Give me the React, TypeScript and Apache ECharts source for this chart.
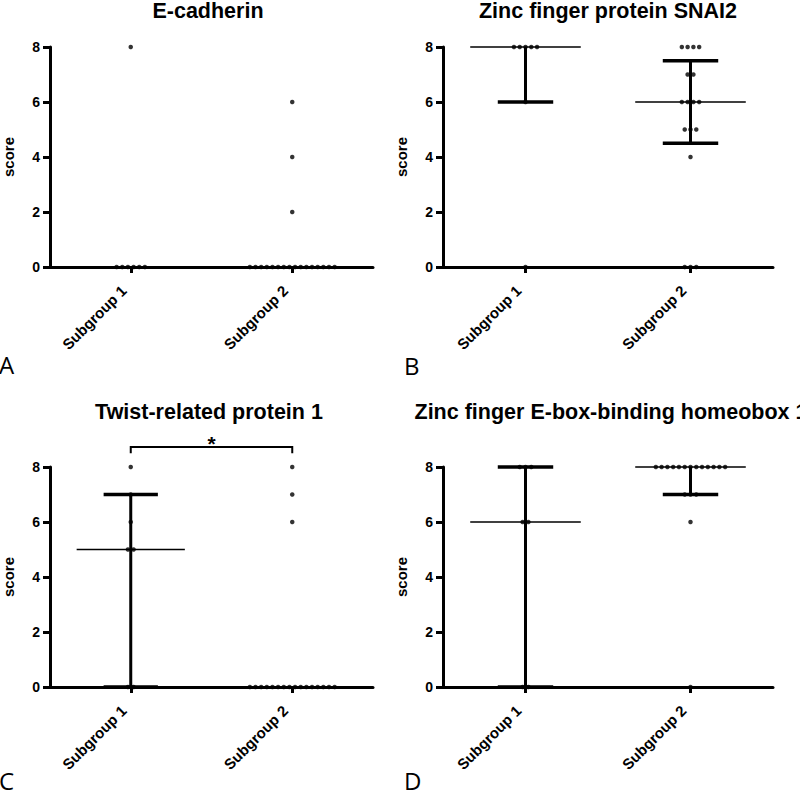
import React, { useEffect, useRef } from "react";
import * as echarts from "echarts";

// ---------- data ----------
const categories = ["Subgroup 1", "Subgroup 2"];
const panelTitles = [
  "E-cadherin",
  "Zinc finger protein SNAI2",
  "Twist-related protein 1",
  "Zinc finger E-box-binding homeobox 1",
];
const panelLetters = ["A", "B", "C", "D"];
const yAxisName = "score";

// individual scores (one value per patient)
const eCadherinSub1 = [8, 0, 0, 0, 0, 0, 0];
const eCadherinSub2 = [6, 4, 2, 0, 0, 0, 0, 0, 0, 0, 0, 0, 0, 0, 0, 0, 0, 0, 0];
const snai2Sub1 = [8, 8, 8, 8, 8, 6, 0];
const snai2Sub2 = [8, 8, 8, 8, 7, 7, 6, 6, 6, 6, 5, 5, 5, 4, 0, 0, 0];
const twistSub1 = [8, 7, 6, 5, 5, 0, 0];
const twistSub2 = [8, 7, 6, 0, 0, 0, 0, 0, 0, 0, 0, 0, 0, 0, 0, 0, 0, 0, 0];
const zebSub1 = [8, 8, 8, 6, 6, 0, 0];
const zebSub2 = [8, 8, 8, 8, 8, 8, 8, 8, 8, 8, 8, 8, 8, 7, 7, 7, 6, 0];

// [median, Q1, Q3] per subgroup
const eCadherinStats = [[0, 0, 0], [0, 0, 0]];
const snai2Stats = [[8, 6, 8], [6, 4.5, 7.5]];
const twistStats = [[5, 0, 7], [0, 0, 0]];
const zebStats = [[6, 0, 8], [8, 7, 8]];

// significance brackets: [panel, fromGroup, toGroup, label]
const significance: [number, number, number, string][] = [[2, 0, 1, "*"]];

const panelScores = [
  [eCadherinSub1, eCadherinSub2],
  [snai2Sub1, snai2Sub2],
  [twistSub1, twistSub2],
  [zebSub1, zebSub2],
];
const panelStats = [eCadherinStats, snai2Stats, twistStats, zebStats];

// ---------- layout ----------
const FONT = "'Liberation Sans', Arial, Helvetica, sans-serif";
const GRID_W = 330;
const GRID_H = 220;
const gridOrigins = [
  [43, 47],
  [443, 47],
  [43, 467],
  [443, 467],
];
const titlePos = [
  [208, 0],
  [608, 0],
  [209, 401],
  [611, 401],
];
const letterPos = [
  [-1, 364],
  [404, 365],
  [-1, 780],
  [404, 780],
];
const DOT_STEP = 0.035;
const groupX = (g: number) => g + 0.5;
const Y_MIN = 0;
const Y_MAX = 8;
const AXIS_W = 3;

function swarm(values: number[], group: number) {
  const counts: Record<string, number> = {};
  values.forEach((v) => (counts[v] = (counts[v] || 0) + 1));
  const out: number[][] = [];
  Object.keys(counts).forEach((k) => {
    const n = counts[k];
    for (let i = 0; i < n; i++) {
      out.push([groupX(group) + (i - (n - 1) / 2) * DOT_STEP, Number(k)]);
    }
  });
  return out;
}

function errorBarRender(params: any, api: any) {
  const x = api.value(0);
  const med = api.value(1);
  const q1 = api.value(2);
  const q3 = api.value(3);
  const unit = api.size([1, 0])[0];
  const medHalf = unit * 0.335;
  const capHalf = unit * 0.168;
  const pMed = api.coord([x, med]);
  const pQ1 = api.coord([x, q1]);
  const pQ3 = api.coord([x, q3]);
  const children: any[] = [];
  if (q1 !== q3) {
    children.push({
      type: "line",
      shape: { x1: pQ1[0], y1: pQ1[1], x2: pQ3[0], y2: pQ3[1] },
      style: { stroke: "#000", lineWidth: 3 },
    });
  }
  if (q1 !== med) {
    children.push({
      type: "line",
      shape: { x1: pQ1[0] - capHalf, y1: pQ1[1], x2: pQ1[0] + capHalf, y2: pQ1[1] },
      style: { stroke: "#000", lineWidth: 3.5 },
    });
  }
  if (q3 !== med) {
    children.push({
      type: "line",
      shape: { x1: pQ3[0] - capHalf, y1: pQ3[1], x2: pQ3[0] + capHalf, y2: pQ3[1] },
      style: { stroke: "#000", lineWidth: 3.5 },
    });
  }
  children.push({
    type: "line",
    shape: { x1: pMed[0] - medHalf, y1: pMed[1], x2: pMed[0] + medHalf, y2: pMed[1] },
    style: { stroke: "#000", lineWidth: 1.5 },
  });
  return { type: "group", children };
}

function sigRender(params: any, api: any) {
  const a = api.value(0);
  const b = api.value(1);
  const label = significance[params.dataIndex][3];
  const pA0 = api.coord([a, 8.5]);
  const pA1 = api.coord([a, 8.73]);
  const pB1 = api.coord([b, 8.73]);
  const pB0 = api.coord([b, 8.5]);
  const pT = api.coord([(a + b) / 2, 8.87]);
  return {
    type: "group",
    children: [
      {
        type: "polyline",
        shape: { points: [pA0, pA1, pB1, pB0] },
        style: { stroke: "#000", lineWidth: 2, fill: null },
      },
      {
        type: "text",
        x: pT[0],
        y: pT[1],
        style: {
          text: label,
          font: `bold 21px ${FONT}`,
          fill: "#000",
          align: "center",
          verticalAlign: "middle",
        },
      },
    ],
  };
}

export default function App() {
  const ref = useRef<HTMLDivElement>(null);

  useEffect(() => {
    if (!ref.current) return;
    const chart = echarts.init(ref.current, undefined, { renderer: "svg" });

    const grid: any[] = [];
    const xAxis: any[] = [];
    const yAxis: any[] = [];
    const series: any[] = [];
    const graphic: any[] = [];
    const tickValues = categories.map((_, g) => groupX(g));

    for (let p = 0; p < 4; p++) {
      const [gl, gt] = gridOrigins[p];
      grid.push({ left: gl, top: gt, width: GRID_W, height: GRID_H });
      xAxis.push({
        type: "value",
        gridIndex: p,
        min: 0,
        max: categories.length,
        axisLine: { show: true, lineStyle: { color: "#000", width: AXIS_W } },
        axisTick: {
          show: true,
          length: 6,
          customValues: tickValues,
          lineStyle: { color: "#000", width: AXIS_W },
        },
        axisLabel: {
          show: true,
          customValues: tickValues,
          rotate: 45,
          margin: 14,
          padding: [0, 10, 0, 0],
          color: "#000",
          fontFamily: FONT,
          fontWeight: "bold",
          fontSize: 15,
          formatter: (v: number) => categories[Math.round(v - 0.5)] ?? "",
        },
        splitLine: { show: false },
      });
      yAxis.push({
        type: "value",
        gridIndex: p,
        min: Y_MIN,
        max: Y_MAX,
        interval: 2,
        name: yAxisName,
        nameLocation: "middle",
        nameGap: 34,
        nameTextStyle: { color: "#000", fontFamily: FONT, fontWeight: "bold", fontSize: 15 },
        axisLine: { show: true, lineStyle: { color: "#000", width: AXIS_W } },
        axisTick: { show: true, length: 7, lineStyle: { color: "#000", width: AXIS_W } },
        axisLabel: { color: "#000", fontFamily: FONT, fontWeight: "bold", fontSize: 14, margin: 10 },
        splitLine: { show: false },
      });

      series.push({
        type: "custom",
        xAxisIndex: p,
        yAxisIndex: p,
        clip: false,
        silent: true,
        renderItem: errorBarRender,
        data: panelStats[p].map((s, g) => [groupX(g), s[0], s[1], s[2]]),
        z: 2,
      });
      const pts: number[][] = [];
      panelScores[p].forEach((vals, g) => pts.push(...swarm(vals, g)));
      series.push({
        type: "scatter",
        xAxisIndex: p,
        yAxisIndex: p,
        clip: false,
        silent: true,
        symbol: "circle",
        symbolSize: 4.5,
        itemStyle: { color: "#000" },
        data: pts,
        z: 3,
      });

      const sigs = significance.filter((s) => s[0] === p);
      if (sigs.length) {
        series.push({
          type: "custom",
          xAxisIndex: p,
          yAxisIndex: p,
          clip: false,
          silent: true,
          renderItem: sigRender,
          data: sigs.map((s) => [groupX(s[1]), groupX(s[2])]),
          z: 3,
        });
      }

      graphic.push({
        type: "text",
        x: titlePos[p][0],
        y: titlePos[p][1],
        style: {
          text: panelTitles[p],
          font: `bold 21.5px ${FONT}`,
          fill: "#000",
          align: "center",
          verticalAlign: "top",
        },
      });
      graphic.push({
        type: "text",
        x: letterPos[p][0],
        y: letterPos[p][1],
        style: {
          text: panelLetters[p],
          font: `normal 24px 'Open Sans', 'DejaVu Sans', sans-serif`,
          fill: "#000",
          align: "left",
          verticalAlign: "middle",
        },
      });
    }

    chart.setOption({
      animation: false,
      grid,
      xAxis,
      yAxis,
      series,
      graphic,
    });

    return () => chart.dispose();
  }, []);

  return (
    <div
      ref={ref}
      style={{ position: "fixed", left: 0, top: 0, width: 800, height: 790, background: "#fff" }}
    />
  );
}
